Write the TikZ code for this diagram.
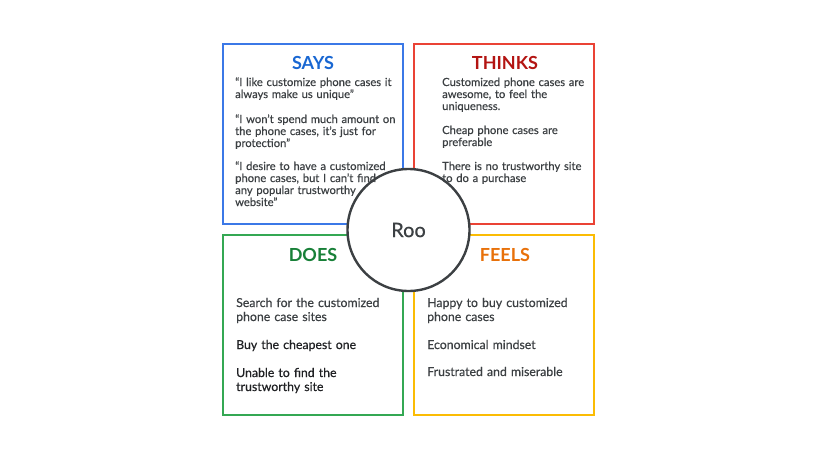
\documentclass[tikz,border=0pt]{standalone}
\usepackage{fontspec}
\setmainfont{Lato}
\newfontfamily\bodyfont{Lato}[FakeBold=0.5]
\definecolor{ink}{HTML}{3C4043}
\definecolor{inkdark}{HTML}{202124}
\definecolor{saysline}{HTML}{3B78E7}
\definecolor{saystext}{HTML}{1967D2}
\definecolor{thinksline}{HTML}{EA4335}
\definecolor{thinkstext}{HTML}{B31412}
\definecolor{doesline}{HTML}{34A853}
\definecolor{doestext}{HTML}{188038}
\definecolor{feelsline}{HTML}{FBBC04}
\definecolor{feelstext}{HTML}{E8710A}
\tikzset{
quad/.style={draw,line width=2.4pt,minimum size=180pt,inner sep=0pt},
persona/.style={draw=ink,fill=white,circle,line width=2.4pt,minimum size=122pt,inner sep=0pt,
  text=ink,font=\bodyfont\fontsize{20}{22}\selectfont},
head/.style={font=\fontsize{18}{20}\selectfont\bfseries,anchor=base,inner sep=0pt},
body/.style={font=\bodyfont\fontsize{11.2}{12}\selectfont,text=ink,anchor=base west,align=left,
  text width=165pt,inner sep=0pt},
bodylarge/.style={body,font=\bodyfont\fontsize{12.3}{14}\selectfont}
}
\begin{document}
\begin{tikzpicture}[x=1pt,y=-1pt]
\useasboundingbox (0,0) rectangle (818,460);
% quadrants
\node[quad,draw=saysline](says) at (313,134){};
\node[quad,draw=thinksline](thinks) at (504,134){};
\node[quad,draw=doesline](does) at (313,325){};
\node[quad,draw=feelsline](feels) at (504,325){};
% persona in the middle
\node[persona](roo) at (408.5,230){Roo};
% says
\node[head,text=saystext](saystitle) at (313,70){SAYS};
\node[body](says1) at (235,86){“I like customize phone cases it\\always make us unique”};
\node[body](says2) at (235,123){“I won’t spend  much amount on\\the phone cases, it’s just for\\protection”};
\node[body](says3) at (235,170){“I desire to have a customized\\phone cases, but  I can’t find\\any popular trustworthy\\website”};
% thinks
\node[head,text=thinkstext](thinkstitle) at (505,69){THINKS};
\node[body](thinks1) at (442,86){Customized phone cases are\\awesome, to feel the\\uniqueness.};
\node[body](thinks2) at (442,134){Cheap phone cases are\\preferable};
\node[body](thinks3) at (442,170){There is no trustworthy site\\to do a purchase};
% does
\node[head,text=doestext](doestitle) at (313,261){DOES};
\node[bodylarge](does1) at (236,307){Search for the customized\\phone case sites};
\node[bodylarge,text=inkdark](does2) at (236,349){Buy the cheapest one};
\node[bodylarge,text=inkdark](does3) at (236,377){Unable to find the\\trustworthy site};
% feels
\node[head,text=feelstext](feelstitle) at (505,261){FEELS};
\node[bodylarge](feels1) at (427,307){Happy to buy customized\\phone cases};
\node[bodylarge](feels2) at (427,349){Economical mindset};
\node[bodylarge](feels3) at (427,376){Frustrated and miserable};
\end{tikzpicture}
\end{document}
